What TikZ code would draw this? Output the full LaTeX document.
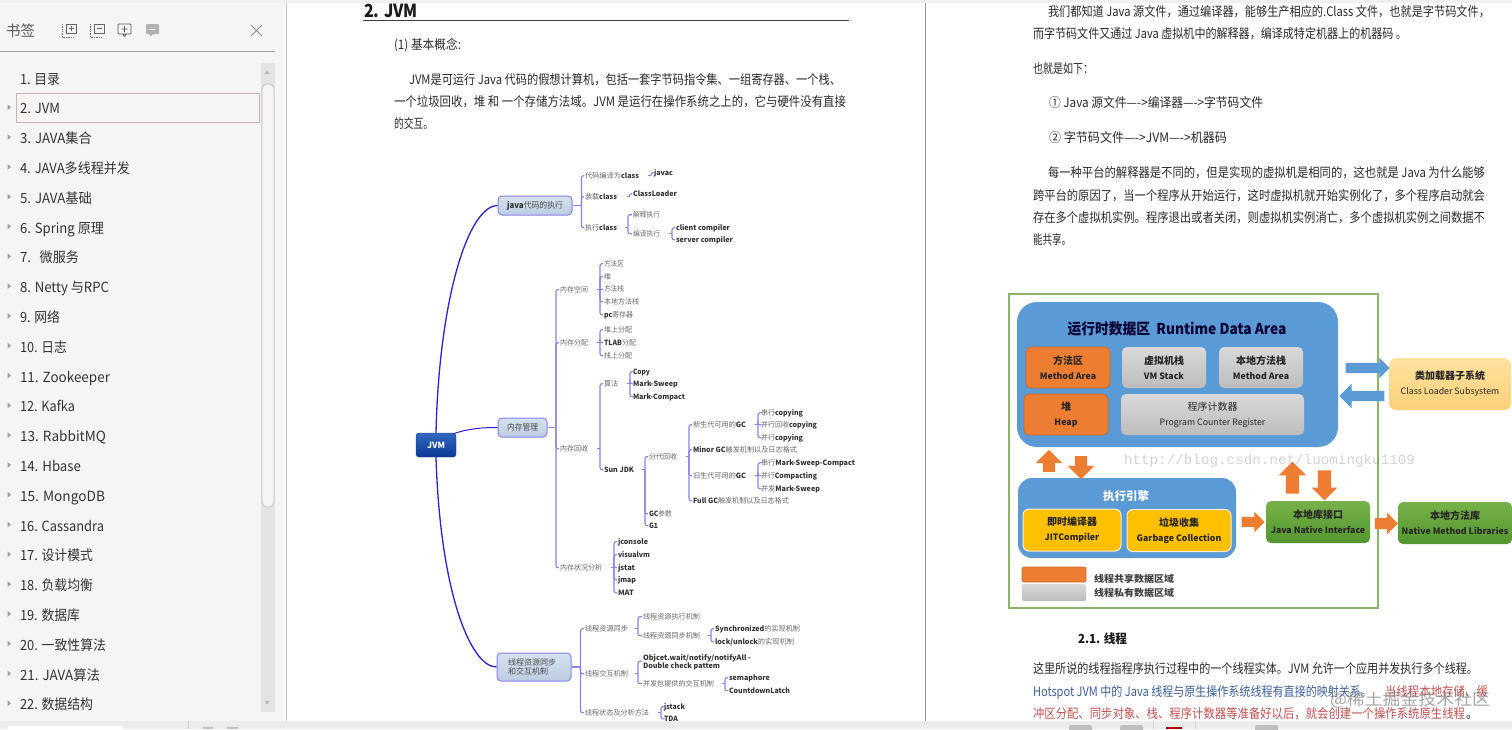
\documentclass[tikz,border=0pt]{standalone}
\usepackage{fontspec}
\usepackage{graphicx}
\setmainfont{Noto Sans CJK SC}
\newfontfamily\wmfont{Liberation Mono}
\usetikzlibrary{shapes.arrows}
\definecolor{barc}{HTML}{8A80EE}
\definecolor{curvec}{HTML}{2A22D8}
\definecolor{mmtxt}{HTML}{666666}
\definecolor{mmb}{HTML}{333333}
\definecolor{doctxt}{HTML}{2A2A2A}
\definecolor{side}{HTML}{F5F5F5}
\definecolor{bluearea}{HTML}{5B9BD5}
\definecolor{orangebox}{HTML}{ED7D31}
\definecolor{framegreen}{HTML}{8CB56A}
\definecolor{docblue}{HTML}{3A5F9F}
\definecolor{docred}{HTML}{C94F4F}
\newcommand\fitw[2]{\resizebox{#1pt}{\height}{#2}}
\newcommand\Bt[1]{{\bfseries\color{mmb}#1}}
\newcommand\cn[1]{{\fontsize{10}{15}\selectfont #1}}
\tikzset{
  x=1pt,y=-1pt,
  tsz/.style={text height={#1*0.88pt},text depth={#1*0.12pt}},
  txt/.style={anchor=west,inner sep=0pt,outer sep=1pt,xshift=-1pt,yshift=-.7pt},
  mm/.style={txt,tsz=7.2,font=\fontsize{7.2}{8}\selectfont,text=mmtxt},
  doc/.style={txt,tsz=13,font=\fontsize{13}{14}\selectfont,text=doctxt},
  item/.style={txt,tsz=14,font=\fontsize{14}{15}\selectfont,text=black!80},
  br/.style={draw=barc,line width=1.1pt},
  brc/.style={br,rounded corners=2pt},
  topic/.style={draw=barc,line width=1pt,rounded corners=4pt,top color={rgb,255:red,214;green,225;blue,238},bottom color={rgb,255:red,188;green,205;blue,226},text=black!70,inner sep=0pt,font=\fontsize{8.5}{11}\selectfont,align=center},
  bigcurve/.style={draw=curvec,line width=1.3pt},
  bx/.style={rounded corners=5pt,inner sep=0pt,align=center,font=\bfseries\fontsize{8.8}{15}\selectfont,text=black!85},
  orb/.style={bx,fill=orangebox,draw=orangebox!85!black,line width=.7pt},
  grb/.style={bx,top color=gray!30,bottom color=gray!52},
  yeb/.style={bx,fill={rgb,255:red,255;green,192;blue,0},draw=white!85!orange,line width=1pt,rounded corners=6pt},
  grnb/.style={bx,top color={rgb,255:red,118;green,178;blue,74},bottom color={rgb,255:red,84;green,150;blue,46},rounded corners=5pt},
  barrow/.style={single arrow,draw=none,inner sep=0pt,outer sep=0pt,single arrow head extend=#1},
}
\newcommand\mmn[5]{\node[mm] (#1) at (#2,#3) {\fitw{#4}{#5}};}
\newcommand\dl[5]{\node[doc] (#1) at (#2,#3) {\fitw{#4}{#5}};}
% a topic joins its bar with a full line
\newcommand\ttree[3]{\draw[br] (#1.east) -- ++(#2,0) coordinate (b#1);
  \foreach \c in {#3} {\draw[brc] (b#1) |- (\c.west);}}
% a text joins its bar with a short tick only
\newcommand\tree[3]{\path (#1.east) -- ++(#2,0) coordinate (b#1);
  \draw[br] (b#1) -- ++(-3,0);
  \foreach \c in {#3} {\draw[brc] (b#1) |- (\c.west);}}
\newcommand\sideitem[5]{\node[item] (#1) at (20,#2) {\fitw{#3}{#4}};#5}
\newcommand\tri[1]{\fill[gray!75] (7.5,#1-3) -- (11,#1) -- (7.5,#1+3) -- cycle;}
\begin{document}
\begin{tikzpicture}
\useasboundingbox (0,0) rectangle (1512,729);
% ---------- chrome
\fill[white] (0,0) rectangle (1512,729);
\fill[gray!12] (0,0) rectangle (1512,3);
\fill[side] (0,3) rectangle (285,721);
\draw[gray!45,line width=1pt] (286,3) -- (286,721);
\draw[gray!80,line width=.8pt] (925,3) -- (925,721);
% header of the side panel
\node[txt,tsz=15,font=\fontsize{15}{16}\selectfont,text=black!65] (shead) at (6,30) {\fitw{29}{书签}};
\draw[black!60,line width=.7pt] (66,24) rectangle (76,33) (68.5,28.5) -- (73.5,28.5) (71,26) -- (71,31);
\draw[black!60,line width=.7pt,densely dotted] (62,24) -- (62,37) -- (74,37);
\draw[black!60,line width=.7pt] (94,24) rectangle (104,33) (96.5,28.5) -- (101.5,28.5);
\draw[black!60,line width=.7pt,densely dotted] (90,24) -- (90,37) -- (102,37);
\draw[black!65,line width=.9pt,rounded corners=.8pt] (118,24) rectangle (131,34) (124.5,26) -- (124.5,32) (121.5,29) -- (127.5,29) (123,34) -- (124.5,37) -- (126,34);
\fill[gray!60,rounded corners=1pt] (146,24) -- (159,24) -- (159,34) -- (153,34) -- (150,37) -- (150,34) -- (146,34) -- cycle;
\draw[white,line width=.9pt] (149.5,29) -- (155,29);
\draw[gray!90,line width=.8pt] (251,25) -- (262,36) (262,25) -- (251,36);
\draw[gray!75,line width=.8pt] (0,51.5) -- (275,51.5);
% scrollbar
\fill[gray!22] (261,63) rectangle (275,712);
\draw[gray!50,fill=side,line width=.7pt,rounded corners=5pt] (262,84) rectangle (274,507);
\fill[gray!55] (264.5,74) -- (267,70.5) -- (269.5,74) -- cycle;
\fill[gray!55] (264.5,701) -- (267,704.5) -- (269.5,701) -- cycle;
\draw[draw={rgb,255:red,208;green,176;blue,176},fill=side,line width=.8pt] (16,93.5) rectangle (259,122.5);
% items
\sideitem{i1}{78}{40}{1. 目录}{}
\sideitem{i2}{107.8}{40}{2. JVM}{\tri{107.3}}
\sideitem{i3}{137.6}{72}{3. JAVA集合}{\tri{137.1}}
\sideitem{i4}{167.4}{110}{4. JAVA多线程并发}{\tri{166.9}}
\sideitem{i5}{197.2}{72}{5. JAVA基础}{\tri{196.7}}
\sideitem{i6}{227}{84}{6. Spring 原理}{\tri{226.5}}
\sideitem{i7}{256.8}{59}{7.\ \ \ 微服务}{\tri{256.3}}
\sideitem{i8}{286.6}{89}{8. Netty 与RPC}{\tri{286.1}}
\sideitem{i9}{316.4}{40}{9. 网络}{\tri{315.9}}
\sideitem{i10}{346.2}{47}{10. 日志}{\tri{345.7}}
\sideitem{i11}{376}{90}{11. Zookeeper}{\tri{375.5}}
\sideitem{i12}{405.8}{55}{12. Kafka}{\tri{405.3}}
\sideitem{i13}{435.6}{86}{13. RabbitMQ}{\tri{435.1}}
\sideitem{i14}{465.4}{61}{14. Hbase}{\tri{464.9}}
\sideitem{i15}{495.2}{85}{15. MongoDB}{\tri{494.7}}
\sideitem{i16}{525}{84}{16. Cassandra}{\tri{524.5}}
\sideitem{i17}{554.8}{73}{17. 设计模式}{\tri{554.3}}
\sideitem{i18}{584.6}{73}{18. 负载均衡}{\tri{584.1}}
\sideitem{i19}{614.4}{60}{19. 数据库}{\tri{613.9}}
\sideitem{i20}{644.2}{86}{20. 一致性算法}{\tri{643.7}}
\sideitem{i21}{674}{80}{21. JAVA算法}{\tri{673.5}}
\sideitem{i22}{703.8}{73}{22. 数据结构}{\tri{703.3}}
% ---------- left page
\node[txt,tsz=18,font=\bfseries\fontsize{18}{20}\selectfont,text=black!90] (h2) at (364,10) {\fitw{54}{2. JVM}};
\draw[black!75,line width=.9pt] (363,20.5) -- (849,20.5);
\dl{p1}{394}{44}{67}{(1) 基本概念:}
\dl{p2}{409}{79}{432}{JVM是可运行 Java 代码的假想计算机，包括一套字节码指令集、一组寄存器、一个栈、}
\dl{p3}{394}{101}{452}{一个垃圾回收，堆 和 一个存储方法域。JVM 是运行在操作系统之上的，它与硬件没有直接}
\dl{p4}{394}{123}{39}{的交互。}
% ---------- mind map
\node[draw={rgb,255:red,20;green,60;blue,150},rounded corners=3pt,top color={rgb,255:red,50;green,105;blue,190},bottom color={rgb,255:red,10;green,55;blue,150},text=white,inner sep=0pt,minimum width=40pt,minimum height=24pt,font=\bfseries\fontsize{8.5}{10}\selectfont] (jvm) at (436,445) {JVM};
\node[topic,minimum width=74pt,minimum height=19pt] (tjava) at (535,205.5) {\fitw{56}{\Bt{java}代码的执行}};
\node[topic,minimum width=49pt,minimum height=19pt] (tmem) at (522.5,427.5) {\fitw{31}{内存管理}};
\node[topic,minimum width=74pt,minimum height=28pt,text width=64pt,align=left,font=\fontsize{8}{9.6}\selectfont] (tthr) at (534,667) {\hspace*{6pt}线程资源同步\\\hspace*{6pt}和交互机制};
\draw[bigcurve] (jvm.north) .. controls (439,300) and (468,206) .. (tjava.west);
\draw[bigcurve,line width=1pt] (jvm.north east) ++(-3,1) .. controls (470,428) and (485,427.5) .. (tmem.west);
\draw[bigcurve] (jvm.south) .. controls (440,590) and (470,667) .. (tthr.west);
% java branch
\mmn{a1}{585}{175}{54}{代码编译为\Bt{class}}
\mmn{a11}{654}{172}{19}{\Bt{javac}}
\mmn{a2}{585}{196}{32}{装载\Bt{class}}
\mmn{a21}{633}{193}{44}{\Bt{ClassLoader}}
\mmn{a3}{585}{227}{32}{执行\Bt{class}}
\mmn{a31}{633}{214}{27}{解释执行}
\mmn{a32}{633}{233}{27}{编译执行}
\mmn{a321}{676}{227}{54}{\Bt{client compiler}}
\mmn{a322}{676}{239}{57}{\Bt{server compiler}}
\ttree{tjava}{9}{a1,a2,a3}
\tree{a1}{11}{a11}
\tree{a2}{11.5}{a21}
\tree{a3}{10}{a31,a32}
\tree{a32}{11}{a321,a322}
% memory branch
\mmn{b1}{560}{289}{28}{内存空间}
\mmn{b11}{604}{263}{20}{方法区}
\mmn{b12}{604}{276}{7}{堆}
\mmn{b13}{604}{288.5}{20}{方法栈}
\mmn{b14}{604}{301}{35}{本地方法栈}
\mmn{b15}{604}{314}{29}{\Bt{pc}寄存器}
\mmn{b2}{560}{342}{28}{内存分配}
\mmn{b21}{604}{329}{28}{堆上分配}
\mmn{b22}{604}{342}{32}{\Bt{TLAB}分配}
\mmn{b23}{604}{355}{28}{栈上分配}
\mmn{b3}{560}{448}{28}{内存回收}
\mmn{b31}{604}{383}{14}{算法}
\mmn{b311}{633}{371}{17}{\Bt{Copy}}
\mmn{b312}{633}{383}{45}{\Bt{Mark-Sweep}}
\mmn{b313}{633}{396}{52}{\Bt{Mark-Compact}}
\mmn{b32}{604}{469}{30}{\Bt{Sun JDK}}
\mmn{b321}{649}{456}{28}{分代回收}
\mmn{b322}{649}{513}{23}{\Bt{GC}参数}
\mmn{b323}{649}{525}{9}{\Bt{G1}}
\mmn{c1}{693}{424}{53}{新生代可用的\Bt{GC}}
\mmn{c2}{693}{449}{104}{\Bt{Minor GC}触发机制以及日志格式}
\mmn{c3}{693}{475}{53}{旧生代可用的\Bt{GC}}
\mmn{c4}{693}{500}{96}{\Bt{Full GC}触发机制以及日志格式}
\mmn{c11}{761}{412}{42}{串行\Bt{copying}}
\mmn{c12}{761}{424}{56}{并行回收\Bt{copying}}
\mmn{c13}{761}{437}{42}{并行\Bt{copying}}
\mmn{c31}{761}{462}{94}{串行\Bt{Mark-Sweep-Compact}}
\mmn{c32}{761}{475}{56}{并行\Bt{Compacting}}
\mmn{c33}{761}{488}{59}{并发\Bt{Mark-Sweep}}
\mmn{b4}{560}{567}{42}{内存状况分析}
\mmn{b41}{618}{541}{30}{\Bt{jconsole}}
\mmn{b42}{618}{554}{32}{\Bt{visualvm}}
\mmn{b43}{618}{567}{17}{\Bt{jstat}}
\mmn{b44}{618}{579}{18}{\Bt{jmap}}
\mmn{b45}{618}{592}{16}{\Bt{MAT}}
\ttree{tmem}{8.5}{b1,b2,b3,b4}
\tree{b1}{11}{b11,b12,b13,b14,b15}
\tree{b2}{11}{b21,b22,b23}
\tree{b3}{11}{b31,b32}
\tree{b31}{11}{b311,b312,b313}
\tree{b32}{10}{b321,b322,b323}
\tree{b321}{11}{c1,c2,c3,c4}
\tree{c1}{11}{c11,c12,c13}
\tree{c3}{11}{c31,c32,c33}
\tree{b4}{11}{b41,b42,b43,b44,b45}
% thread branch
\mmn{d1}{585}{628}{43}{线程资源同步}
\mmn{d11}{643}{616}{57}{线程资源执行机制}
\mmn{d12}{643}{635}{57}{线程资源同步机制}
\mmn{d121}{715}{628}{85}{\Bt{Synchronized}的实现机制}
\mmn{d122}{715}{641}{79}{\Bt{lock/unlock}的实现机制}
\mmn{d2}{585}{673}{43}{线程交互机制}
\mmn{d21a}{643}{657}{108}{\Bt{Objcet.wait/notify/notifyAll -}}
\mmn{d21b}{643}{665}{77}{\Bt{Double check pattem}}
\coordinate (d21) at (642,661);
\mmn{d22}{643}{683}{71}{并发包提供的交互机制}
\mmn{d221}{729}{677}{41}{\Bt{semaphore}}
\mmn{d222}{729}{690}{61}{\Bt{CountdownLatch}}
\mmn{d3}{585}{712}{64}{线程状态及分析方法}
\mmn{d31}{664}{706}{21}{\Bt{jstack}}
\mmn{d32}{664}{718}{14}{\Bt{TDA}}
\ttree{tthr}{9}{d1,d2,d3}
\tree{d1}{9}{d11,d12}
\tree{d12}{10}{d121,d122}
\tree{d2}{9}{d21,d22}
\tree{d22}{10}{d221,d222}
\tree{d3}{11}{d31,d32}
% ---------- right page text
\dl{r1}{1048}{11}{442}{我们都知道 Java 源文件，通过编译器，能够生产相应的.Class 文件，也就是字节码文件，}
\dl{r2}{1033}{33}{374}{而字节码文件又通过 Java 虚拟机中的解释器，编译成特定机器上的机器码 。}
\dl{r3}{1033}{68}{60}{也就是如下：}
\dl{r4}{1049}{102}{214}{① Java 源文件—->编译器—->字节码文件}
\dl{r5}{1049}{137}{178}{② 字节码文件—->JVM—->机器码}
\dl{r6}{1048}{172}{437}{每一种平台的解释器是不同的，但是实现的虚拟机是相同的，这也就是 Java 为什么能够}
\dl{r7}{1033}{195}{452}{跨平台的原因了，当一个程序从开始运行，这时虚拟机就开始实例化了，多个程序启动就会}
\dl{r8}{1033}{217}{452}{存在多个虚拟机实例。程序退出或者关闭，则虚拟机实例消亡，多个虚拟机实例之间数据不}
\dl{r9}{1033}{239}{38}{能共享。}
% ---------- JVM architecture figure
\draw[framegreen,line width=2.4pt] (1009,294) rectangle (1378,608);
\node[fill=bluearea,rounded corners=20pt,minimum width=321pt,minimum height=145pt,inner sep=0pt] (rda) at (1177.5,374.5) {};
\node[txt,tsz=15,anchor=center,font=\bfseries\fontsize{15}{16}\selectfont,text=black!80!blue] (rdat) at (1178,328) {\fitw{219}{运行时数据区\ \ Runtime Data Area}};
\node[orb,minimum width=84pt,minimum height=41pt] (mth) at (1068,367.5) {\cn{方法区}\\Method Area};
\node[grb,minimum width=84pt,minimum height=41pt] (vms) at (1164,367.5) {\cn{虚拟机栈}\\VM Stack};
\node[grb,minimum width=84pt,minimum height=41pt] (nms) at (1261,367.5) {\cn{本地方法栈}\\Method Area};
\node[orb,minimum width=84pt,minimum height=41pt] (heap) at (1066,414.5) {\cn{堆}\\Heap};
\node[grb,minimum width=183pt,minimum height=41pt,font=\fontsize{8.8}{15}\selectfont] (pcr) at (1212.5,414.5) {\cn{程序计数器}\\Program Counter Register};
\node[bx,top color={rgb,255:red,255;green,226;blue,160},bottom color={rgb,255:red,252;green,208;blue,120},rounded corners=7pt,minimum width=122pt,minimum height=52pt,font=\fontsize{8.8}{15}\selectfont] (cls) at (1450,384) {\textbf{\cn{类加载器子系统}}\\Class Loader Subsystem};
\node[fill=bluearea,rounded corners=14pt,minimum width=218pt,minimum height=80pt,inner sep=0pt] (exe) at (1127,518) {};
\node[txt,tsz=11.5,anchor=center,font=\bfseries\fontsize{11.5}{12}\selectfont,text=white] (exet) at (1127,495) {执行引擎};
\node[yeb,minimum width=98pt,minimum height=42pt] (jit) at (1072,530) {\cn{即时编译器}\\JITCompiler};
\node[yeb,minimum width=104pt,minimum height=42pt] (gcb) at (1179,530.5) {\cn{垃圾收集}\\Garbage Collection};
\node[grnb,minimum width=104pt,minimum height=42pt] (jni) at (1318,522) {\cn{本地库接口}\\Java Native Interface};
\node[grnb,minimum width=114pt,minimum height=42pt] (nml) at (1455,523) {\cn{本地方法库}\\Native Method Libraries};
\node[barrow=5pt,fill=bluearea,minimum height=44pt] (a1r) at (1365,368) {\rule{0pt}{10pt}};
\node[barrow=7pt,fill=bluearea,minimum height=45pt,rotate=180] (a1l) at (1364.5,396) {\rule{0pt}{10pt}};
\node[barrow=7pt,fill=orangebox,minimum height=22pt,rotate=90] (a2u) at (1049,464) {\rule{0pt}{12pt}};
\node[barrow=7pt,fill=orangebox,minimum height=23pt,rotate=-90] (a2d) at (1081,464.5) {\rule{0pt}{12pt}};
\node[barrow=7pt,fill=orangebox,minimum height=32pt,rotate=90] (a3u) at (1292.5,481) {\rule{0pt}{13pt}};
\node[barrow=6pt,fill=orangebox,minimum height=30pt,rotate=-90] (a3d) at (1324.5,482) {\rule{0pt}{13pt}};
\node[barrow=5pt,fill=orangebox,minimum height=23pt] (a4r) at (1250.5,522) {\rule{0pt}{10pt}};
\node[barrow=5pt,fill=orangebox,minimum height=23pt] (a5r) at (1383.5,523.5) {\rule{0pt}{11pt}};
\node[orb,rounded corners=2pt,minimum width=64pt,minimum height=15pt] (lg1) at (1054,574.5) {};
\node[grb,rounded corners=2pt,minimum width=64pt,minimum height=17pt] (lg2) at (1054,592.5) {};
\node[txt,tsz=9.5,font=\bfseries\fontsize{9.5}{10}\selectfont,text=black!75] (lg1t) at (1094,578) {\fitw{80}{线程共享数据区域}};
\node[txt,tsz=9.5,font=\bfseries\fontsize{9.5}{10}\selectfont,text=black!75] (lg2t) at (1094,592.5) {\fitw{80}{线程私有数据区域}};
\node[txt,tsz=14,font=\wmfont\fontsize{14}{15}\selectfont,text=gray,opacity=.35] (wm) at (1124,458) {\fitw{291}{http://blog.csdn.net/luomingku1109}};
% ---------- section 2.1
\node[txt,tsz=12.5,font=\bfseries\fontsize{12.5}{14}\selectfont,text=black!90] (h21) at (1078,638) {\fitw{49}{2.1. 线程}};
\dl{s1}{1033}{668}{445}{这里所说的线程指程序执行过程中的一个线程实体。JVM 允许一个应用并发执行多个线程。}
\node[doc,text=docblue] (s2) at (1033,691) {\fitw{339}{Hotspot JVM 中的 Java 线程与原生操作系统线程有直接的映射关系。}};
\node[doc,text=docred] (s2b) at (1385,691) {\fitw{103}{当线程本地存储、缓}};
\node[doc,text=docred] (s3) at (1033,713) {\fitw{432}{冲区分配、同步对象、栈、程序计数器等准备好以后，就会创建一个操作系统原生线程}};
\node[doc] (s3b) at (1466,713) {\fitw{12}{。}};
\node[txt,tsz=16,font=\fontsize{16}{17}\selectfont,text=gray,opacity=.7] (wm2) at (1330,699) {\fitw{160}{@稀土掘金技术社区}};
% ---------- bottom bar
\fill[gray!15] (0,721) rectangle (1512,729);
\fill[white] (8,726) rectangle (123,729);
\draw[gray!40] (188,721) -- (188,729);
\fill[gray!50] (203,726.5) rectangle (213,729);
\fill[gray!50] (227,726.5) rectangle (238,729);
\fill[gray!50,rounded corners=2pt] (1069,725) rectangle (1092,732);
\fill[gray!50,rounded corners=2pt] (1120,725) rectangle (1143,732);
\fill[red!70!black] (1166,727) rectangle (1182,729);
\fill[gray!50,rounded corners=2pt] (1255,725) rectangle (1278,732);
\draw[gray!35] (1153,721) -- (1153,729) (1195,721) -- (1195,729);
\end{tikzpicture}
\end{document}
